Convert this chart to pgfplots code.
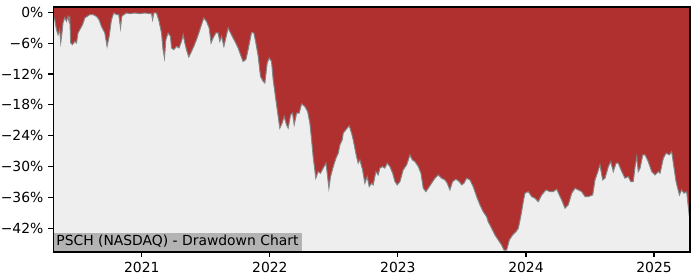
\documentclass[border=0pt]{standalone}
\usepackage{fontspec}
\setmainfont{DejaVu Sans}
\usepackage{pgfplots}
\pgfplotsset{compat=1.18}
\definecolor{ddred}{HTML}{B03030}
\definecolor{bggray}{HTML}{EEEEEE}
\definecolor{edgegray}{HTML}{858585}
\definecolor{boxgray}{HTML}{B3B3B3}
\begin{document}
\begin{tikzpicture}
\begin{axis}[
  at={(0,0)}, anchor=south west,
  scale only axis,
  width=458.6bp, height=176.4bp,
  xmin=2020.307, xmax=2025.281,
  ymin=-46.6, ymax=1.05,
  axis background/.style={fill=bggray},
  xtick={2021,2022,2023,2024,2025},
  xticklabels={2021,2022,2023,2024,2025},
  ytick={-42,-36,-30,-24,-18,-12,-6,0},
  yticklabels={−42\%,−36\%,−30\%,−24\%,−18\%,−12\%,−6\%,0\%},
  tick align=outside,
  xtick pos=bottom, ytick pos=left,
  major tick length=3.5bp,
  tick style={black, line width=0.8bp},
  axis line style={black, line width=0.8bp},
  ticklabel style={font=\fontsize{10bp}{12bp}\selectfont},
  axis on top,
  clip=true,
]
\addplot[fill=ddred, draw=none] coordinates {
(2020.307,1.2)
(2020.307,-0.45)(2020.320,-1.42)(2020.334,-3.37)(2020.346,-4.35)(2020.359,-3.37)(2020.367,-5.90)(2020.375,-4.35)(2020.385,-2.01)(2020.398,-1.03)(2020.412,-1.75)(2020.424,-0.78)(2020.432,-1.75)(2020.4375,-0.78)(2020.445,-5.96)(2020.459,-6.29)(2020.477,-5.65)(2020.490,-5.96)(2020.502,-4.01)(2020.516,-3.37)(2020.537,-2.40)(2020.555,-1.09)(2020.573,-0.78)(2020.594,-0.45)(2020.620,-0.45)(2020.646,-0.78)(2020.666,-1.42)(2020.685,-2.73)(2020.711,-4.01)(2020.729,-6.62)(2020.745,-4.68)(2020.763,-1.42)(2020.781,-0.12)(2020.802,-0.45)(2020.820,-0.45)(2020.834,-3.04)(2020.844,-0.78)(2020.859,-0.45)(2020.880,-0.12)(2020.906,-0.25)(2020.945,-0.12)(2020.984,-0.25)(2021.023,-0.12)(2021.0625,-0.25)(2021.076,-0.25)(2021.084,-1.42)(2021.094,-0.12)(2021.115,-0.12)(2021.135,-1.75)(2021.154,-4.01)(2021.166,-7.27)(2021.177,-8.88)(2021.188,-5.32)(2021.205,-4.01)(2021.224,-4.68)(2021.232,-6.93)(2021.250,-7.27)(2021.271,-6.62)(2021.291,-6.93)(2021.310,-5.65)(2021.323,-4.34)(2021.336,-5.96)(2021.349,-7.27)(2021.367,-8.69)(2021.388,-7.60)(2021.406,-6.62)(2021.427,-5.32)(2021.445,-4.01)(2021.466,-2.40)(2021.484,-1.09)(2021.505,-1.75)(2021.526,-3.04)(2021.541,-5.96)(2021.557,-4.99)(2021.578,-4.01)(2021.596,-4.01)(2021.609,-5.65)(2021.623,-4.68)(2021.641,-6.62)(2021.656,-4.99)(2021.674,-3.04)(2021.693,-4.01)(2021.713,-4.99)(2021.734,-5.96)(2021.752,-6.93)(2021.771,-8.24)(2021.791,-9.55)(2021.8125,-9.21)(2021.830,-7.27)(2021.857,-3.90)(2021.875,-4.01)(2021.891,-5.96)(2021.909,-8.57)(2021.927,-12.47)(2021.948,-13.44)(2021.961,-13.75)(2021.979,-9.86)(2021.995,-8.88)(2022.013,-9.55)(2022.026,-13.11)(2022.047,-17.01)(2022.065,-20.26)(2022.078,-22.52)(2022.096,-21.54)(2022.112,-20.26)(2022.130,-21.88)(2022.143,-22.52)(2022.162,-19.93)(2022.177,-19.60)(2022.190,-21.88)(2022.209,-19.60)(2022.229,-19.60)(2022.248,-17.79)(2022.273,-18.31)(2022.295,-19.29)(2022.3125,-21.54)(2022.326,-24.80)(2022.338,-28.05)(2022.359,-32.26)(2022.377,-30.97)(2022.396,-31.29)(2022.416,-30.31)(2022.438,-29.34)(2022.448,-31.29)(2022.461,-34.21)(2022.474,-31.95)(2022.495,-30.00)(2022.516,-28.36)(2022.534,-27.39)(2022.547,-25.77)(2022.565,-24.80)(2022.573,-23.49)(2022.604,-22.52)(2022.620,-22.07)(2022.638,-23.49)(2022.651,-24.80)(2022.677,-28.05)(2022.690,-29.34)(2022.703,-28.69)(2022.724,-30.64)(2022.742,-33.23)(2022.760,-31.95)(2022.776,-33.90)(2022.795,-33.23)(2022.807,-33.56)(2022.828,-30.97)(2022.846,-31.62)(2022.859,-30.31)(2022.880,-30.00)(2022.898,-30.31)(2022.916,-29.34)(2022.9375,-30.00)(2022.959,-31.29)(2022.977,-32.92)(2022.995,-33.56)(2023.016,-32.92)(2023.041,-30.64)(2023.068,-29.67)(2023.094,-27.72)(2023.112,-28.69)(2023.133,-29.03)(2023.159,-30.00)(2023.180,-31.29)(2023.198,-34.21)(2023.219,-34.87)(2023.237,-34.21)(2023.263,-33.23)(2023.289,-32.26)(2023.315,-31.62)(2023.341,-32.26)(2023.367,-32.59)(2023.385,-33.23)(2023.406,-34.54)(2023.427,-32.92)(2023.453,-32.45)(2023.479,-32.92)(2023.498,-33.56)(2023.516,-33.23)(2023.537,-32.26)(2023.5625,-32.59)(2023.588,-33.90)(2023.615,-35.84)(2023.641,-37.46)(2023.666,-38.77)(2023.693,-39.74)(2023.705,-40.71)(2023.732,-42.00)(2023.758,-43.30)(2023.784,-44.28)(2023.810,-45.25)(2023.828,-46.23)(2023.849,-46.23)(2023.870,-44.28)(2023.896,-43.30)(2023.922,-42.66)(2023.940,-42.00)(2023.959,-39.74)(2023.979,-36.82)(2023.992,-35.18)(2024.018,-34.87)(2024.045,-35.84)(2024.070,-36.15)(2024.096,-36.82)(2024.123,-35.51)(2024.156,-34.54)(2024.1875,-34.87)(2024.213,-34.87)(2024.240,-34.40)(2024.260,-35.51)(2024.279,-36.49)(2024.305,-38.10)(2024.330,-37.46)(2024.357,-35.18)(2024.383,-34.21)(2024.409,-34.54)(2024.435,-34.87)(2024.461,-35.84)(2024.487,-35.84)(2024.521,-35.51)(2024.539,-32.59)(2024.557,-31.29)(2024.578,-29.67)(2024.599,-32.59)(2024.617,-32.26)(2024.643,-30.00)(2024.662,-29.03)(2024.682,-30.97)(2024.703,-29.34)(2024.721,-29.34)(2024.748,-30.97)(2024.773,-32.26)(2024.799,-31.95)(2024.818,-32.92)(2024.838,-32.92)(2024.852,-30.00)(2024.865,-28.05)(2024.877,-30.97)(2024.891,-30.31)(2024.912,-27.72)(2024.930,-27.72)(2024.955,-29.03)(2024.982,-30.97)(2025.008,-31.62)(2025.034,-30.97)(2025.047,-31.29)(2025.073,-28.36)(2025.094,-27.39)(2025.120,-27.72)(2025.138,-27.08)(2025.151,-29.34)(2025.172,-32.92)(2025.198,-35.51)(2025.216,-34.54)(2025.234,-35.18)(2025.255,-34.87)(2025.276,-39.74)
(2025.276,1.2)
} -- cycle;
\addplot[draw=edgegray, line width=0.7bp] coordinates {
(2020.307,-0.45)(2020.320,-1.42)(2020.334,-3.37)(2020.346,-4.35)(2020.359,-3.37)(2020.367,-5.90)(2020.375,-4.35)(2020.385,-2.01)(2020.398,-1.03)(2020.412,-1.75)(2020.424,-0.78)(2020.432,-1.75)(2020.4375,-0.78)(2020.445,-5.96)(2020.459,-6.29)(2020.477,-5.65)(2020.490,-5.96)(2020.502,-4.01)(2020.516,-3.37)(2020.537,-2.40)(2020.555,-1.09)(2020.573,-0.78)(2020.594,-0.45)(2020.620,-0.45)(2020.646,-0.78)(2020.666,-1.42)(2020.685,-2.73)(2020.711,-4.01)(2020.729,-6.62)(2020.745,-4.68)(2020.763,-1.42)(2020.781,-0.12)(2020.802,-0.45)(2020.820,-0.45)(2020.834,-3.04)(2020.844,-0.78)(2020.859,-0.45)(2020.880,-0.12)(2020.906,-0.25)(2020.945,-0.12)(2020.984,-0.25)(2021.023,-0.12)(2021.0625,-0.25)(2021.076,-0.25)(2021.084,-1.42)(2021.094,-0.12)(2021.115,-0.12)(2021.135,-1.75)(2021.154,-4.01)(2021.166,-7.27)(2021.177,-8.88)(2021.188,-5.32)(2021.205,-4.01)(2021.224,-4.68)(2021.232,-6.93)(2021.250,-7.27)(2021.271,-6.62)(2021.291,-6.93)(2021.310,-5.65)(2021.323,-4.34)(2021.336,-5.96)(2021.349,-7.27)(2021.367,-8.69)(2021.388,-7.60)(2021.406,-6.62)(2021.427,-5.32)(2021.445,-4.01)(2021.466,-2.40)(2021.484,-1.09)(2021.505,-1.75)(2021.526,-3.04)(2021.541,-5.96)(2021.557,-4.99)(2021.578,-4.01)(2021.596,-4.01)(2021.609,-5.65)(2021.623,-4.68)(2021.641,-6.62)(2021.656,-4.99)(2021.674,-3.04)(2021.693,-4.01)(2021.713,-4.99)(2021.734,-5.96)(2021.752,-6.93)(2021.771,-8.24)(2021.791,-9.55)(2021.8125,-9.21)(2021.830,-7.27)(2021.857,-3.90)(2021.875,-4.01)(2021.891,-5.96)(2021.909,-8.57)(2021.927,-12.47)(2021.948,-13.44)(2021.961,-13.75)(2021.979,-9.86)(2021.995,-8.88)(2022.013,-9.55)(2022.026,-13.11)(2022.047,-17.01)(2022.065,-20.26)(2022.078,-22.52)(2022.096,-21.54)(2022.112,-20.26)(2022.130,-21.88)(2022.143,-22.52)(2022.162,-19.93)(2022.177,-19.60)(2022.190,-21.88)(2022.209,-19.60)(2022.229,-19.60)(2022.248,-17.79)(2022.273,-18.31)(2022.295,-19.29)(2022.3125,-21.54)(2022.326,-24.80)(2022.338,-28.05)(2022.359,-32.26)(2022.377,-30.97)(2022.396,-31.29)(2022.416,-30.31)(2022.438,-29.34)(2022.448,-31.29)(2022.461,-34.21)(2022.474,-31.95)(2022.495,-30.00)(2022.516,-28.36)(2022.534,-27.39)(2022.547,-25.77)(2022.565,-24.80)(2022.573,-23.49)(2022.604,-22.52)(2022.620,-22.07)(2022.638,-23.49)(2022.651,-24.80)(2022.677,-28.05)(2022.690,-29.34)(2022.703,-28.69)(2022.724,-30.64)(2022.742,-33.23)(2022.760,-31.95)(2022.776,-33.90)(2022.795,-33.23)(2022.807,-33.56)(2022.828,-30.97)(2022.846,-31.62)(2022.859,-30.31)(2022.880,-30.00)(2022.898,-30.31)(2022.916,-29.34)(2022.9375,-30.00)(2022.959,-31.29)(2022.977,-32.92)(2022.995,-33.56)(2023.016,-32.92)(2023.041,-30.64)(2023.068,-29.67)(2023.094,-27.72)(2023.112,-28.69)(2023.133,-29.03)(2023.159,-30.00)(2023.180,-31.29)(2023.198,-34.21)(2023.219,-34.87)(2023.237,-34.21)(2023.263,-33.23)(2023.289,-32.26)(2023.315,-31.62)(2023.341,-32.26)(2023.367,-32.59)(2023.385,-33.23)(2023.406,-34.54)(2023.427,-32.92)(2023.453,-32.45)(2023.479,-32.92)(2023.498,-33.56)(2023.516,-33.23)(2023.537,-32.26)(2023.5625,-32.59)(2023.588,-33.90)(2023.615,-35.84)(2023.641,-37.46)(2023.666,-38.77)(2023.693,-39.74)(2023.705,-40.71)(2023.732,-42.00)(2023.758,-43.30)(2023.784,-44.28)(2023.810,-45.25)(2023.828,-46.23)(2023.849,-46.23)(2023.870,-44.28)(2023.896,-43.30)(2023.922,-42.66)(2023.940,-42.00)(2023.959,-39.74)(2023.979,-36.82)(2023.992,-35.18)(2024.018,-34.87)(2024.045,-35.84)(2024.070,-36.15)(2024.096,-36.82)(2024.123,-35.51)(2024.156,-34.54)(2024.1875,-34.87)(2024.213,-34.87)(2024.240,-34.40)(2024.260,-35.51)(2024.279,-36.49)(2024.305,-38.10)(2024.330,-37.46)(2024.357,-35.18)(2024.383,-34.21)(2024.409,-34.54)(2024.435,-34.87)(2024.461,-35.84)(2024.487,-35.84)(2024.521,-35.51)(2024.539,-32.59)(2024.557,-31.29)(2024.578,-29.67)(2024.599,-32.59)(2024.617,-32.26)(2024.643,-30.00)(2024.662,-29.03)(2024.682,-30.97)(2024.703,-29.34)(2024.721,-29.34)(2024.748,-30.97)(2024.773,-32.26)(2024.799,-31.95)(2024.818,-32.92)(2024.838,-32.92)(2024.852,-30.00)(2024.865,-28.05)(2024.877,-30.97)(2024.891,-30.31)(2024.912,-27.72)(2024.930,-27.72)(2024.955,-29.03)(2024.982,-30.97)(2025.008,-31.62)(2025.034,-30.97)(2025.047,-31.29)(2025.073,-28.36)(2025.094,-27.39)(2025.120,-27.72)(2025.138,-27.08)(2025.151,-29.34)(2025.172,-32.92)(2025.198,-35.51)(2025.216,-34.54)(2025.234,-35.18)(2025.255,-34.87)(2025.276,-39.74)
};
\node[anchor=south west, fill=boxgray, inner xsep=2.2bp, inner ysep=0pt,
  minimum height=13.7bp, text height=7.5bp, text depth=2bp,
  font=\fontsize{10bp}{12bp}\selectfont]
  at (rel axis cs:0,0) {PSCH (NASDAQ) - Drawdown Chart};
\end{axis}
\pgfresetboundingbox
\path[use as bounding box] (-38.2bp,-20.2bp) rectangle (465.8bp,181.4bp);
\end{tikzpicture}
\end{document}
